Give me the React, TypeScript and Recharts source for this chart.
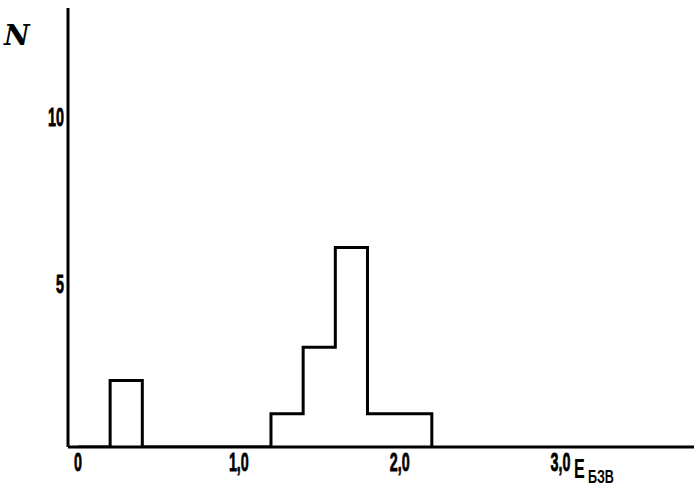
import { LineChart, Line, XAxis, YAxis } from 'recharts'

// histogram bins (left edge, width 0.2) and counts
const binStarts = [0, 0.2, 0.4, 0.6, 0.8, 1.0, 1.2, 1.4, 1.6, 1.8, 2.0, 2.2]
const counts = [0, 2, 0, 0, 0, 0, 1, 3, 6, 1, 1, 0]
const xTicks = [0, 1, 2, 3]
const xTickLabels = ['0', '1,0', '2,0', '3,0']
const yTicks = [5, 10]

const data = binStarts.map((x, i) => ({ x, n: counts[i] }))

const tickFont = '"Liberation Sans", "DejaVu Sans", sans-serif'

function XTick(props: any) {
  const { x, y, payload } = props
  const idx = xTicks.indexOf(payload.value)
  return (
    <g transform={`translate(${x},${y})`}>
      <text
        transform="scale(0.55,1)"
        textAnchor="middle"
        dy={20}
        fontFamily={tickFont}
        fontWeight="bold"
        fontSize={26}
        stroke="#000"
        strokeWidth={0.8}
        fill="#000"
      >
        {xTickLabels[idx]}
      </text>
    </g>
  )
}

function YTick(props: any) {
  const { x, y, payload } = props
  return (
    <g transform={`translate(${x},${y})`}>
      <text
        transform="scale(0.55,1)"
        textAnchor="end"
        dy={12}
        fontFamily={tickFont}
        fontWeight="bold"
        fontSize={26}
        stroke="#000"
        strokeWidth={0.8}
        fill="#000"
      >
        {payload.value}
      </text>
    </g>
  )
}

export default function App() {
  return (
    <div style={{ position: 'absolute', left: 0, top: 0, width: 694, height: 494, background: '#fff' }}>
      <LineChart width={694} height={494} data={data} margin={{ top: 8, right: 0, bottom: 0, left: 0 }}>
        <XAxis
          type="number"
          dataKey="x"
          domain={[-0.062, 3.83]}
          allowDataOverflow
          ticks={xTicks}
          tickLine={false}
          tickSize={0}
          tickMargin={4}
          height={47}
          axisLine={{ stroke: '#000', strokeWidth: 3 }}
          tick={<XTick />}
        />
        <YAxis
          type="number"
          domain={[0, 13.2]}
          allowDataOverflow
          ticks={yTicks}
          tickLine={false}
          tickSize={0}
          tickMargin={4}
          width={68}
          axisLine={{ stroke: '#000', strokeWidth: 3 }}
          tick={<YTick />}
        />
        <Line
          type="stepAfter"
          dataKey="n"
          stroke="#000"
          strokeWidth={3}
          dot={false}
          isAnimationActive={false}
        />
      </LineChart>
      <div
        style={{
          position: 'absolute',
          left: 4,
          top: 22,
          fontFamily: '"DejaVu Serif", serif',
          fontStyle: 'italic',
          fontWeight: 'bold',
          fontSize: 28,
          lineHeight: 1,
        }}
      >
        N
      </div>
      <div
        style={{
          position: 'absolute',
          left: 574,
          top: 456,
          fontFamily: tickFont,
          fontWeight: 'bold',
          fontSize: 27,
          lineHeight: 1,
          whiteSpace: 'nowrap',
        }}
      >
        <span style={{ display: 'inline-block', transform: 'scaleX(0.6)', transformOrigin: 'left' }}>E</span>
        <span
          style={{
            position: 'absolute',
            left: 14,
            top: 12,
            fontSize: 18,
            display: 'inline-block',
            transform: 'scaleX(0.7)',
            transformOrigin: 'left',
          }}
        >
          БЗВ
        </span>
      </div>
    </div>
  )
}
